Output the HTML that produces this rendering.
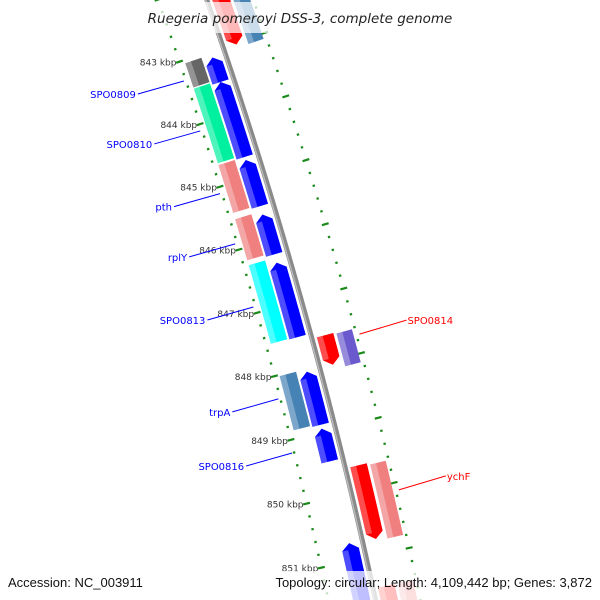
<!DOCTYPE html>
<html><head><meta charset="utf-8"><style>
html,body{margin:0;padding:0;background:#fff;overflow:hidden;width:600px;height:600px}
svg{display:block}
text{font-family:"DejaVu Sans","Liberation Sans",sans-serif}
</style></head><body>
<svg id="map" width="600" height="600" viewBox="0 0 600 600" xmlns="http://www.w3.org/2000/svg" overflow="hidden">
<defs><clipPath id="clipR"><rect x="0" y="0" width="474" height="600"/></clipPath><clipPath id="clipAll"><rect x="0" y="0" width="600" height="600"/></clipPath></defs>
<g clip-path="url(#clipAll)">
<g id="rings"></g>
<g id="feats"></g>
<g id="bb"></g>
<g id="labels" clip-path="url(#clipR)"></g>
</g>
<rect x="138" y="2" width="324" height="31" fill="#fff" opacity="0.72"/>
<text x="300" y="23" text-anchor="middle" font-size="13.5" font-style="italic" fill="#222">Ruegeria pomeroyi DSS-3, complete genome</text>
<rect x="0" y="571" width="600" height="29" fill="#fff" opacity="0.75"/>
<text x="8" y="587" font-size="13" fill="#111" style="font-family:'Liberation Sans',sans-serif">Accession: NC_003911</text>
<text x="592" y="587" text-anchor="end" font-size="13" fill="#111" style="font-family:'Liberation Sans',sans-serif">Topology: circular; Length: 4,109,442 bp; Genes: 3,872</text>
</svg>
<script>
// ---- data ----
const featStart = [842.0, 842.0, 843.10,843.49,844.73,845.59,846.35,848.06,848.95,850.73, 843.05,843.46,844.68,845.54,846.27,848.02, 847.60,849.62,851.48, 847.62,849.65,851.48];
const featEnd   = [843.03,843.08,843.49,844.68,845.46,846.22,847.52,848.89,849.46,852.0, 843.44,844.65,845.44,846.19,847.51,848.87, 848.06,850.76,852.2, 848.13,850.79,852.2];
const featTrack = ["C","D","A","A","A","A","A","A","A","A","B","B","B","B","B","B","C","C","C","D","D","D"];
const featColor = ["#ff0000","#4682b4","#0000ff","#0000ff","#0000ff","#0000ff","#0000ff","#0000ff","#0000ff","#0000ff","#666666","#00f0a0","#f08080","#f08080","#00ffff","#4682b4","#ff0000","#ff0000","#ff0000","#6a5acd","#f08080","#f08080"];
const featDir   = [1,0,-1,-1,-1,-1,-1,-1,-1,-1,0,0,0,0,0,0,1,1,0,0,0,0];
const tickKbp = [843,844,845,846,847,848,849,850,851];
const tickLabels = ["843 kbp","844 kbp","845 kbp","846 kbp","847 kbp","848 kbp","849 kbp","850 kbp","851 kbp"];
const geneNames = ["SPO0809","SPO0810","pth","rplY","SPO0813","trpA","SPO0816","SPO0814","ychF"];
const geneKbp   = [843.3,844.1,845.1,845.9,846.9,848.35,849.2,847.72,850.12];
const geneSide  = [-1,-1,-1,-1,-1,-1,-1,1,1];

// ---- geometry ----
const CX=-4513, CY=1650, R=5000;
const trackU={A:[-22,-5],B:[-41,-24],C:[5,22],D:[25,41]};
function theta(k){return (-18.70+(k-843)*0.76)*Math.PI/180;}
function pt(k,u){const t=theta(k),r=R+u;return [CX+r*Math.cos(t),CY+r*Math.sin(t)];}
const NS="http://www.w3.org/2000/svg";
function mk(tag,attrs,parent){const e=document.createElementNS(NS,tag);for(const a in attrs)e.setAttribute(a,attrs[a]);parent.appendChild(e);return e;}
function arcPts(k0,k1,u){const out=[];const n=Math.max(2,Math.ceil(Math.abs(k1-k0)/0.05));for(let i=0;i<=n;i++)out.push(pt(k0+(k1-k0)*i/n,u));return out;}
function fmt(p){return p.map(q=>q[0].toFixed(2)+","+q[1].toFixed(2)).join(" ");}

// rings
const rings=document.getElementById('rings');
[-46,44].forEach((u,ri)=>{
  for(let i=0;i<=50;i++){
    const k=842.0+i*0.2;
    const major=Math.abs(k-Math.round(k))<0.01;
    const h=major?3.5:1.2;
    const a=pt(k,u-h),b=pt(k,u+h);
    const l=mk('line',{x1:a[0],y1:a[1],x2:b[0],y2:b[1],stroke:'#1a8a1a','stroke-width':2.2},rings);
    
    
  }
});
tickKbp.forEach((k,i)=>{
  const p=pt(k,-46);
  const t=mk('text',{x:p[0]-3,y:p[1]+4,'text-anchor':'end','font-size':9,fill:'#333'},rings);
  t.textContent=tickLabels[i];
  
  
});

// features
const feats=document.getElementById('feats');
featStart.forEach((k0,i)=>{
  const k1=featEnd[i],[u0,u1]=trackU[featTrack[i]],um=(u0+u1)/2,d=featDir[i],h=0.1;
  let p=[];
  if(d===-1){p=p.concat([pt(k0,um)],arcPts(k0+h,k1,u1),arcPts(k1,k0+h,u0));}
  else if(d===1){p=p.concat(arcPts(k0,k1-h,u1),[pt(k1,um)],arcPts(k1-h,k0,u0));}
  else {p=p.concat(arcPts(k0,k1,u1),arcPts(k1,k0,u0));}
  const g=mk('g',{},feats);
  
  
  mk('polygon',{points:fmt(p),fill:featColor[i]},g);
  const s0=d===-1?k0+h:k0, s1=d===1?k1-h:k1;
  const sp=arcPts(s0,s1,u0+6).concat(arcPts(s1,s0,u0));
  mk('polygon',{points:fmt(sp),fill:'#fff',opacity:0.3},g);
});

// backbone
const bb=document.getElementById('bb');
const bp=arcPts(842.0,852.2,0);
const l1=mk('polyline',{points:fmt(bp),fill:'none',stroke:'#8a8a8a','stroke-width':5},bb);


mk('polyline',{points:fmt(arcPts(842.0,852.2,-1.3)),fill:'none',stroke:'#bdbdbd','stroke-width':1.3},bb);

// gene labels
const lab=document.getElementById('labels');
geneNames.forEach((n,i)=>{
  const s=geneSide[i];
  const a=pt(geneKbp[i],s<0?-48:47);
  const ux=s<0?-46:47, uy=s<0?13:-14;
  const b=[a[0]+ux,a[1]+uy];
  const ln=mk('line',{x1:a[0],y1:a[1],x2:b[0],y2:b[1],stroke:s<0?'#0000ff':'#ff0000','stroke-width':1},lab);
  
  
  const t=mk('text',{x:b[0]+(s<0?-2:1),y:b[1]+4,'text-anchor':s<0?'end':'start','font-size':10,fill:s<0?'#0000ff':'#ff0000'},lab);
  t.textContent=n;
  
  
});
</script>
</body></html>
